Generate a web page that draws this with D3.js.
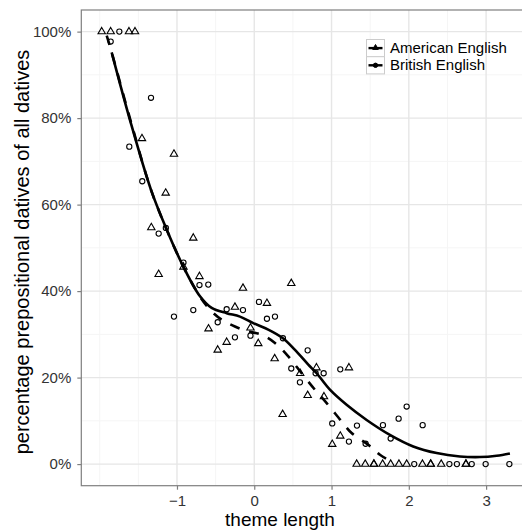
<!DOCTYPE html>
<html>
<head>
<meta charset="utf-8">
<script src="https://cdn.jsdelivr.net/npm/d3@7"></script>
<style>
	body { margin: 0; background: #fff; }
	text { font-family: "Liberation Sans", Arial, sans-serif; }
</style>
</head>
<body>
<svg id="chart" width="522" height="530"></svg>
<script>
// American English observations (triangles)
const amX = [-1.974, -1.858, -1.621, -1.543, -1.453, -1.039, -1.146, -1.332, -0.789, -0.916,
	-1.237, -0.709, -0.146, 0.479, -0.250, 0.164, -0.592, -0.049, -0.357, -0.473,
	0.052, 0.264, 0.594, 0.805, 1.225, 0.691, 0.902, 0.367, 1.113, 1.009,
	1.325, 1.436, 1.548, 1.548, 1.661, 1.765, 1.872, 1.972, 2.176, 2.283, 2.283, 2.419, 2.739, 2.739];
const amY = [100, 100, 100, 100, 75.3, 71.7, 62.7, 54.7, 52.3, 45.6,
	43.9, 43.4, 40.7, 41.8, 36.3, 37.2, 31.3, 31.5, 28.2, 26.4,
	27.9, 24.4, 21.0, 22.3, 22.3, 15.9, 15.6, 11.5, 6.5, 4.6,
	0, 0, 0, 0, 0, 0, 0, 0, 0, 0, 0, 0, 0, 0];

// British English observations (circles)
const brX = [-1.746, -1.858, -1.336, -1.617, -1.449, -1.237, -1.144, -0.916, -0.709, -0.595,
	-1.039, -0.789, -0.357, -0.146, 0.061, -0.473, 0.164, 0.268, -0.049, -0.250,
	0.371, 0.691, 0.479, 0.794, 0.898, 1.113, 0.591, 1.009, 1.329, 1.665,
	1.868, 1.972, 2.179, 1.225, 1.441, 1.765,
	2.070, 2.525, 2.622, 2.814, 2.994, 3.301];
const brY = [100, 97.7, 84.7, 73.4, 65.4, 53.3, 54.6, 46.6, 41.4, 41.5,
	34.1, 35.6, 35.8, 35.6, 37.5, 32.8, 33.6, 34.1, 29.7, 29.3,
	29.1, 26.3, 22.1, 21.0, 21.0, 21.9, 18.9, 9.4, 8.9, 9.0,
	10.5, 13.3, 9.0, 5.2, 4.7, 5.9,
	0, 0, 0, 0, 0, 0];

// smoothed curves
const amFitX = [-1.909, -1.845, -1.608, -1.336, -1.142, -0.916, -0.702, -0.551, -0.422, -0.250,
	-0.078, 0.096, 0.268, 0.440, 0.613, 0.785, 0.937, 1.131, 1.260, 1.475, 1.626, 1.820];
const amFitY = [99.1, 95.2, 79.9, 63.4, 54.6, 45.6, 38.7, 35.3, 33.4, 31.8,
	30.7, 29.9, 28.0, 24.9, 21.0, 17.2, 14.1, 9.85, 7.17, 4.46, 2.15, 0.19];

const brFitX = [-1.845, -1.609, -1.336, -1.142, -0.916, -0.702, -0.551, -0.357, -0.185, -0.013,
	0.181, 0.371, 0.527, 0.699, 0.807, 0.979, 1.195, 1.454, 1.755, 2.057,
	2.360, 2.661, 2.920, 3.136, 3.308];
const brFitY = [95.2, 79.6, 63.4, 54.6, 45.6, 38.8, 36.1, 34.9, 34.1, 32.6,
	31.1, 29.1, 26.4, 23.0, 21.0, 17.2, 13.7, 10.2, 6.75, 4.07,
	2.54, 1.76, 1.62, 1.92, 2.45];

const xTicks = [-1, 0, 1, 2, 3];
const xMinorTicks = [-2, -1.5, -0.5, 0.5, 1.5, 2.5, 3.5];
const yTicks = [0, 20, 40, 60, 80, 100];
const yMinorTicks = [10, 30, 50, 70, 90];
const seriesNames = ["American English", "British English"];

const panel = { left: 81.3, right: 530, top: 10, bottom: 485.7 };
const svg = d3.select("#chart");

const xScale = d3.scaleLinear().domain([-2.238, 3.568]).range([panel.left, panel.right]);
const yScale = d3.scaleLinear().domain([-5, 105]).range([panel.bottom, panel.top]);

// panel background + grid
svg.append("rect")
	.attr("x", panel.left).attr("y", panel.top)
	.attr("width", panel.right - panel.left).attr("height", panel.bottom - panel.top)
	.attr("fill", "#fff");

const grid = svg.append("g");
grid.selectAll(".vminor").data(xMinorTicks).enter().append("line")
	.attr("x1", d => xScale(d)).attr("x2", d => xScale(d))
	.attr("y1", panel.top).attr("y2", panel.bottom)
	.attr("stroke", "#f5f5f5").attr("stroke-width", 1);
grid.selectAll(".hminor").data(yMinorTicks).enter().append("line")
	.attr("x1", panel.left).attr("x2", panel.right)
	.attr("y1", d => yScale(d)).attr("y2", d => yScale(d))
	.attr("stroke", "#f5f5f5").attr("stroke-width", 1);
grid.selectAll(".vmajor").data(xTicks).enter().append("line")
	.attr("x1", d => xScale(d)).attr("x2", d => xScale(d))
	.attr("y1", panel.top).attr("y2", panel.bottom)
	.attr("stroke", "#e6e6e6").attr("stroke-width", 1.4);
grid.selectAll(".hmajor").data(yTicks).enter().append("line")
	.attr("x1", panel.left).attr("x2", panel.right)
	.attr("y1", d => yScale(d)).attr("y2", d => yScale(d))
	.attr("stroke", "#e6e6e6").attr("stroke-width", 1.4);

// points
const trianglePath = "M0,-4.2L3.7,2.2L-3.7,2.2Z";
svg.append("g").selectAll("path")
	.data(d3.zip(amX, amY)).enter().append("path")
	.attr("d", trianglePath)
	.attr("transform", d => `translate(${xScale(d[0])},${yScale(d[1])})`)
	.attr("fill", "none").attr("stroke", "#000").attr("stroke-width", 1.1);

svg.append("g").selectAll("circle")
	.data(d3.zip(brX, brY)).enter().append("circle")
	.attr("cx", d => xScale(d[0])).attr("cy", d => yScale(d[1]))
	.attr("r", 2.6)
	.attr("fill", "none").attr("stroke", "#000").attr("stroke-width", 1.1);

// smooth lines
const line = d3.line().x(d => xScale(d[0])).y(d => yScale(d[1])).curve(d3.curveCatmullRom);
svg.append("path")
	.datum(d3.zip(brFitX, brFitY))
	.attr("d", line)
	.attr("fill", "none").attr("stroke", "#000").attr("stroke-width", 2.6);
svg.append("path")
	.datum(d3.zip(amFitX, amFitY))
	.attr("d", line)
	.attr("fill", "none").attr("stroke", "#000").attr("stroke-width", 2.6)
	.attr("stroke-dasharray", "10,10");

// panel border
svg.append("rect")
	.attr("x", panel.left).attr("y", panel.top)
	.attr("width", panel.right - panel.left).attr("height", panel.bottom - panel.top)
	.attr("fill", "none").attr("stroke", "#7f7f7f").attr("stroke-width", 1.2);

// axes
const xAxis = d3.axisBottom(xScale).tickValues(xTicks).tickSize(4).tickPadding(3)
	.tickFormat(d => d < 0 ? "\u2212" + Math.abs(d) : d);
const gx = svg.append("g").attr("transform", `translate(0,${panel.bottom})`).call(xAxis);
gx.select(".domain").remove();
gx.selectAll("line").attr("stroke", "#7f7f7f").attr("stroke-width", 1.2);
gx.selectAll("text").attr("fill", "#333").style("font-size", "15px").attr("dy", "0.9em");

const yAxis = d3.axisLeft(yScale).tickValues(yTicks).tickSize(4).tickPadding(6)
	.tickFormat(d => d + "%");
const gy = svg.append("g").attr("transform", `translate(${panel.left},0)`).call(yAxis);
gy.select(".domain").remove();
gy.selectAll("line").attr("stroke", "#7f7f7f").attr("stroke-width", 1.2);
gy.selectAll("text").attr("fill", "#333").style("font-size", "15px");

// axis titles
svg.append("text")
	.attr("x", 280).attr("y", 525.5)
	.attr("text-anchor", "middle")
	.style("font-size", "19px")
	.text("theme length");
svg.append("text")
	.attr("transform", "translate(29,252) rotate(-90)")
	.attr("text-anchor", "middle")
	.style("font-size", "20px")
	.text("percentage prepositional datives of all datives");

// legend
const legend = svg.append("g").attr("transform", "translate(366.5,39.5)");
seriesNames.forEach((name, i) => {
	const row = legend.append("g").attr("transform", `translate(0,${i * 17.2})`);
	row.append("rect")
		.attr("width", 18).attr("height", 17.2)
		.attr("fill", "#fff").attr("stroke", "#cccccc").attr("stroke-width", 1);
	row.append("line")
		.attr("x1", 2).attr("x2", 16).attr("y1", 8.6).attr("y2", 8.6)
		.attr("stroke", "#000").attr("stroke-width", 2.4);
	if (i === 0) {
		row.append("path").attr("d", "M0,-3.2L2.8,1.7L-2.8,1.7Z")
			.attr("transform", "translate(9,8.2)")
			.attr("fill", "#000").attr("stroke", "#000").attr("stroke-width", 1);
	} else {
		row.append("circle").attr("cx", 9).attr("cy", 8.6).attr("r", 2.2)
			.attr("fill", "#000").attr("stroke", "#000").attr("stroke-width", 1);
	}
	row.append("text")
		.attr("x", 23.5).attr("y", 13.2)
		.style("font-size", "15px")
		.text(name);
});
</script>
</body>
</html>
